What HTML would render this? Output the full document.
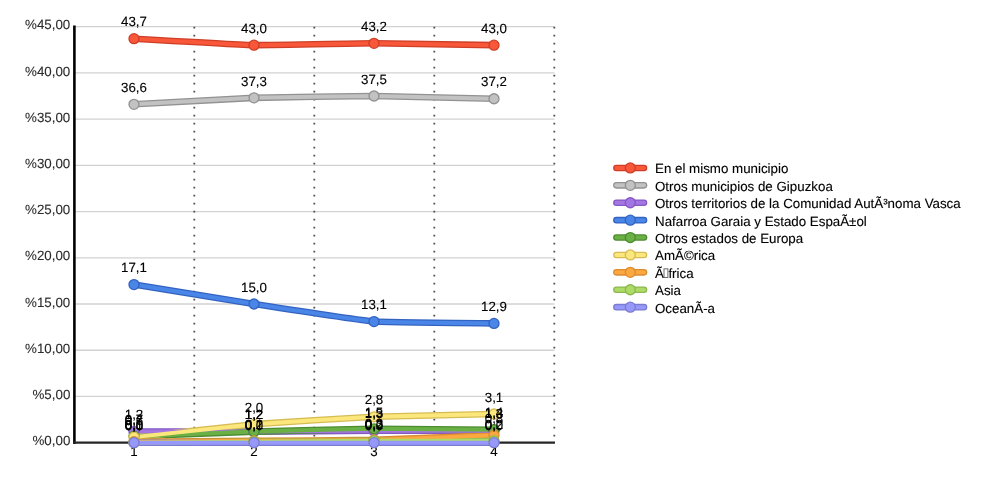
<!DOCTYPE html>
<html><head><meta charset="utf-8"><title>chart</title>
<style>
html,body{margin:0;padding:0;background:#fff;}
body{width:1000px;height:500px;overflow:hidden;}
svg{display:block;}
text{font-family:"Liberation Sans",sans-serif;text-rendering:geometricPrecision;}
.yl{font-size:13.333px;fill:#2c2c2c;text-anchor:end;stroke:#2c2c2c;stroke-width:0.1px;}
.xl{font-size:13.333px;fill:#000;text-anchor:middle;stroke:#000;stroke-width:0.1px;}
.dl{font-size:13.333px;fill:#000;text-anchor:middle;stroke:#000;stroke-width:0.12px;}
.lg{font-size:13.333px;fill:#000;text-anchor:start;stroke:#000;stroke-width:0.12px;}
.o{fill:none;stroke-width:6.6;stroke-linecap:round;stroke-linejoin:round;}
.f{fill:none;stroke-width:4.0;stroke-linecap:round;stroke-linejoin:round;}
.m{stroke-width:1.33;}
</style></head><body>
<svg width="1000" height="500" viewBox="0 0 1000 500">
<rect width="1000" height="500" fill="#fff"/>
<g stroke="#d2d2d2" stroke-width="1.3">
<line x1="74.4" y1="396.45" x2="554.5" y2="396.45"/>
<line x1="74.4" y1="350.23" x2="554.5" y2="350.23"/>
<line x1="74.4" y1="304.00" x2="554.5" y2="304.00"/>
<line x1="74.4" y1="257.78" x2="554.5" y2="257.78"/>
<line x1="74.4" y1="211.56" x2="554.5" y2="211.56"/>
<line x1="74.4" y1="165.34" x2="554.5" y2="165.34"/>
<line x1="74.4" y1="119.11" x2="554.5" y2="119.11"/>
<line x1="74.4" y1="72.89" x2="554.5" y2="72.89"/>
<line x1="74.4" y1="26.67" x2="554.5" y2="26.67"/>
</g>
<g stroke="#4c4c4c" stroke-width="1.8" stroke-dasharray="1.8 6.2">
<line x1="194.30" y1="26.8" x2="194.30" y2="442.67"/>
<line x1="314.30" y1="26.8" x2="314.30" y2="442.67"/>
<line x1="434.30" y1="26.8" x2="434.30" y2="442.67"/>
<line x1="554.30" y1="26.8" x2="554.30" y2="442.67"/>
</g>
<line x1="74.4" y1="25.4" x2="74.4" y2="443.97" stroke="#000" stroke-width="2.6"/>
<line x1="73.10" y1="442.67" x2="555.0" y2="442.67" stroke="#262626" stroke-width="2.1"/>
<text class="yl" x="70.3" y="445.32">%0,00</text>
<text class="yl" x="70.3" y="399.10">%5,00</text>
<text class="yl" x="70.3" y="352.88">%10,00</text>
<text class="yl" x="70.3" y="306.65">%15,00</text>
<text class="yl" x="70.3" y="260.43">%20,00</text>
<text class="yl" x="70.3" y="214.21">%25,00</text>
<text class="yl" x="70.3" y="167.99">%30,00</text>
<text class="yl" x="70.3" y="121.76">%35,00</text>
<text class="yl" x="70.3" y="75.54">%40,00</text>
<text class="yl" x="70.3" y="29.32">%45,00</text>
<text class="xl" x="134.00" y="455.9">1</text>
<text class="xl" x="254.00" y="455.9">2</text>
<text class="xl" x="374.00" y="455.9">3</text>
<text class="xl" x="494.00" y="455.9">4</text>
<g class="o">
<path d="M134.00,38.69 Q246.00,45.00 254.00,45.16 C266.00,45.39 362.00,43.31 374.00,43.31 Q382.00,43.31 494.00,45.16" stroke="#CE3F27"/>
<path d="M134.00,104.32 Q246.00,98.13 254.00,97.85 C266.00,97.44 362.00,95.96 374.00,96.00 Q382.00,96.03 494.00,98.78" stroke="#929292"/>
<path d="M134.00,431.58 Q246.00,431.61 254.00,431.58 C266.00,431.53 362.00,430.70 374.00,430.65 Q382.00,430.62 494.00,430.65" stroke="#8558C4"/>
<path d="M134.00,284.59 Q246.00,302.77 254.00,304.00 C266.00,305.85 362.00,320.60 374.00,321.57 Q382.00,322.21 494.00,323.42" stroke="#3363C0"/>
<path d="M134.00,436.20 Q246.00,431.82 254.00,431.58 C266.00,431.21 362.00,428.90 374.00,428.80 Q382.00,428.74 494.00,429.73" stroke="#4C8C30"/>
<path d="M134.00,437.12 Q246.00,424.86 254.00,424.18 C266.00,423.16 362.00,417.29 374.00,416.79 Q382.00,416.45 494.00,414.01" stroke="#D6BC55"/>
<path d="M134.00,441.75 Q246.00,440.88 254.00,440.82 C266.00,440.73 362.00,440.17 374.00,439.90 Q382.00,439.71 494.00,435.27" stroke="#DC8C30"/>
<path d="M134.00,442.67 Q246.00,441.81 254.00,441.75 C266.00,441.65 362.00,440.87 374.00,440.82 Q382.00,440.79 494.00,440.82" stroke="#8CB850"/>
<path d="M134.00,442.67 Q246.00,442.67 254.00,442.67 C266.00,442.67 362.00,442.67 374.00,442.67 Q382.00,442.67 494.00,442.67" stroke="#7A7CD0"/>
</g>
<g class="f">
<path d="M134.00,38.69 Q246.00,45.00 254.00,45.16 C266.00,45.39 362.00,43.31 374.00,43.31 Q382.00,43.31 494.00,45.16" stroke="#F9573A"/>
<path d="M134.00,104.32 Q246.00,98.13 254.00,97.85 C266.00,97.44 362.00,95.96 374.00,96.00 Q382.00,96.03 494.00,98.78" stroke="#C2C2C2"/>
<path d="M134.00,431.58 Q246.00,431.61 254.00,431.58 C266.00,431.53 362.00,430.70 374.00,430.65 Q382.00,430.62 494.00,430.65" stroke="#A476E3"/>
<path d="M134.00,284.59 Q246.00,302.77 254.00,304.00 C266.00,305.85 362.00,320.60 374.00,321.57 Q382.00,322.21 494.00,323.42" stroke="#4A86E8"/>
<path d="M134.00,436.20 Q246.00,431.82 254.00,431.58 C266.00,431.21 362.00,428.90 374.00,428.80 Q382.00,428.74 494.00,429.73" stroke="#6AB045"/>
<path d="M134.00,437.12 Q246.00,424.86 254.00,424.18 C266.00,423.16 362.00,417.29 374.00,416.79 Q382.00,416.45 494.00,414.01" stroke="#FBE77C"/>
<path d="M134.00,441.75 Q246.00,440.88 254.00,440.82 C266.00,440.73 362.00,440.17 374.00,439.90 Q382.00,439.71 494.00,435.27" stroke="#FBA840"/>
<path d="M134.00,442.67 Q246.00,441.81 254.00,441.75 C266.00,441.65 362.00,440.87 374.00,440.82 Q382.00,440.79 494.00,440.82" stroke="#AEDB68"/>
<path d="M134.00,442.67 Q246.00,442.67 254.00,442.67 C266.00,442.67 362.00,442.67 374.00,442.67 Q382.00,442.67 494.00,442.67" stroke="#9698FA"/>
</g>
<g class="m">
<circle cx="134.00" cy="38.69" r="5.0" fill="#F9573A" stroke="#CE3F27"/><circle cx="254.00" cy="45.16" r="5.0" fill="#F9573A" stroke="#CE3F27"/><circle cx="374.00" cy="43.31" r="5.0" fill="#F9573A" stroke="#CE3F27"/><circle cx="494.00" cy="45.16" r="5.0" fill="#F9573A" stroke="#CE3F27"/>
<circle cx="134.00" cy="104.32" r="5.0" fill="#C2C2C2" stroke="#929292"/><circle cx="254.00" cy="97.85" r="5.0" fill="#C2C2C2" stroke="#929292"/><circle cx="374.00" cy="96.00" r="5.0" fill="#C2C2C2" stroke="#929292"/><circle cx="494.00" cy="98.78" r="5.0" fill="#C2C2C2" stroke="#929292"/>
<circle cx="134.00" cy="431.58" r="5.0" fill="#A476E3" stroke="#8558C4"/><circle cx="254.00" cy="431.58" r="5.0" fill="#A476E3" stroke="#8558C4"/><circle cx="374.00" cy="430.65" r="5.0" fill="#A476E3" stroke="#8558C4"/><circle cx="494.00" cy="430.65" r="5.0" fill="#A476E3" stroke="#8558C4"/>
<circle cx="134.00" cy="284.59" r="5.0" fill="#4A86E8" stroke="#3363C0"/><circle cx="254.00" cy="304.00" r="5.0" fill="#4A86E8" stroke="#3363C0"/><circle cx="374.00" cy="321.57" r="5.0" fill="#4A86E8" stroke="#3363C0"/><circle cx="494.00" cy="323.42" r="5.0" fill="#4A86E8" stroke="#3363C0"/>
<circle cx="134.00" cy="436.20" r="5.0" fill="#6AB045" stroke="#4C8C30"/><circle cx="254.00" cy="431.58" r="5.0" fill="#6AB045" stroke="#4C8C30"/><circle cx="374.00" cy="428.80" r="5.0" fill="#6AB045" stroke="#4C8C30"/><circle cx="494.00" cy="429.73" r="5.0" fill="#6AB045" stroke="#4C8C30"/>
<circle cx="134.00" cy="437.12" r="5.0" fill="#FBE77C" stroke="#D6BC55"/><circle cx="254.00" cy="424.18" r="5.0" fill="#FBE77C" stroke="#D6BC55"/><circle cx="374.00" cy="416.79" r="5.0" fill="#FBE77C" stroke="#D6BC55"/><circle cx="494.00" cy="414.01" r="5.0" fill="#FBE77C" stroke="#D6BC55"/>
<circle cx="134.00" cy="441.75" r="5.0" fill="#FBA840" stroke="#DC8C30"/><circle cx="254.00" cy="440.82" r="5.0" fill="#FBA840" stroke="#DC8C30"/><circle cx="374.00" cy="439.90" r="5.0" fill="#FBA840" stroke="#DC8C30"/><circle cx="494.00" cy="435.27" r="5.0" fill="#FBA840" stroke="#DC8C30"/>
<circle cx="134.00" cy="442.67" r="5.0" fill="#AEDB68" stroke="#8CB850"/><circle cx="254.00" cy="441.75" r="5.0" fill="#AEDB68" stroke="#8CB850"/><circle cx="374.00" cy="440.82" r="5.0" fill="#AEDB68" stroke="#8CB850"/><circle cx="494.00" cy="440.82" r="5.0" fill="#AEDB68" stroke="#8CB850"/>
<circle cx="134.00" cy="442.67" r="5.0" fill="#9698FA" stroke="#7A7CD0"/><circle cx="254.00" cy="442.67" r="5.0" fill="#9698FA" stroke="#7A7CD0"/><circle cx="374.00" cy="442.67" r="5.0" fill="#9698FA" stroke="#7A7CD0"/><circle cx="494.00" cy="442.67" r="5.0" fill="#9698FA" stroke="#7A7CD0"/>
</g>
<text class="dl" x="134.00" y="26.39">43,7</text>
<text class="dl" x="254.00" y="32.86">43,0</text>
<text class="dl" x="374.00" y="31.01">43,2</text>
<text class="dl" x="494.00" y="32.86">43,0</text>
<text class="dl" x="134.00" y="92.02">36,6</text>
<text class="dl" x="254.00" y="85.55">37,3</text>
<text class="dl" x="374.00" y="83.70">37,5</text>
<text class="dl" x="494.00" y="86.48">37,2</text>
<text class="dl" x="134.00" y="419.28">1,2</text>
<text class="dl" x="254.00" y="419.28">1,2</text>
<text class="dl" x="374.00" y="418.35">1,3</text>
<text class="dl" x="494.00" y="418.35">1,3</text>
<text class="dl" x="134.00" y="272.29">17,1</text>
<text class="dl" x="254.00" y="291.70">15,0</text>
<text class="dl" x="374.00" y="309.27">13,1</text>
<text class="dl" x="494.00" y="311.12">12,9</text>
<text class="dl" x="134.00" y="423.90">0,7</text>
<text class="dl" x="254.00" y="419.28">1,2</text>
<text class="dl" x="374.00" y="416.50">1,5</text>
<text class="dl" x="494.00" y="417.43">1,4</text>
<text class="dl" x="134.00" y="424.82">0,6</text>
<text class="dl" x="254.00" y="411.88">2,0</text>
<text class="dl" x="374.00" y="404.49">2,8</text>
<text class="dl" x="494.00" y="401.71">3,1</text>
<text class="dl" x="134.00" y="429.45">0,1</text>
<text class="dl" x="254.00" y="428.52">0,2</text>
<text class="dl" x="374.00" y="427.60">0,3</text>
<text class="dl" x="494.00" y="422.97">0,8</text>
<text class="dl" x="134.00" y="430.37">0,0</text>
<text class="dl" x="254.00" y="429.45">0,1</text>
<text class="dl" x="374.00" y="428.52">0,2</text>
<text class="dl" x="494.00" y="428.52">0,2</text>
<text class="dl" x="134.00" y="430.37">0,0</text>
<text class="dl" x="254.00" y="430.37">0,0</text>
<text class="dl" x="374.00" y="430.37">0,0</text>
<text class="dl" x="494.00" y="430.37">0,0</text>
<g><line class="o" x1="616.4" y1="167.95" x2="644.0" y2="167.95" stroke="#CE3F27"/><line class="f" x1="616.4" y1="167.95" x2="644.0" y2="167.95" stroke="#F9573A"/><circle class="m" cx="630.3" cy="167.95" r="5.0" fill="#F9573A" stroke="#CE3F27"/><text class="lg" x="655.0" y="173.35">En el mismo municipio</text></g>
<g><line class="o" x1="616.4" y1="185.35" x2="644.0" y2="185.35" stroke="#929292"/><line class="f" x1="616.4" y1="185.35" x2="644.0" y2="185.35" stroke="#C2C2C2"/><circle class="m" cx="630.3" cy="185.35" r="5.0" fill="#C2C2C2" stroke="#929292"/><text class="lg" x="655.0" y="190.75">Otros municipios de Gipuzkoa</text></g>
<g><line class="o" x1="616.4" y1="202.75" x2="644.0" y2="202.75" stroke="#8558C4"/><line class="f" x1="616.4" y1="202.75" x2="644.0" y2="202.75" stroke="#A476E3"/><circle class="m" cx="630.3" cy="202.75" r="5.0" fill="#A476E3" stroke="#8558C4"/><text class="lg" x="655.0" y="208.15">Otros territorios de la Comunidad AutÃ³noma Vasca</text></g>
<g><line class="o" x1="616.4" y1="220.15" x2="644.0" y2="220.15" stroke="#3363C0"/><line class="f" x1="616.4" y1="220.15" x2="644.0" y2="220.15" stroke="#4A86E8"/><circle class="m" cx="630.3" cy="220.15" r="5.0" fill="#4A86E8" stroke="#3363C0"/><text class="lg" x="655.0" y="225.55">Nafarroa Garaia y Estado EspaÃ±ol</text></g>
<g><line class="o" x1="616.4" y1="237.55" x2="644.0" y2="237.55" stroke="#4C8C30"/><line class="f" x1="616.4" y1="237.55" x2="644.0" y2="237.55" stroke="#6AB045"/><circle class="m" cx="630.3" cy="237.55" r="5.0" fill="#6AB045" stroke="#4C8C30"/><text class="lg" x="655.0" y="242.95">Otros estados de Europa</text></g>
<g><line class="o" x1="616.4" y1="254.95" x2="644.0" y2="254.95" stroke="#D6BC55"/><line class="f" x1="616.4" y1="254.95" x2="644.0" y2="254.95" stroke="#FBE77C"/><circle class="m" cx="630.3" cy="254.95" r="5.0" fill="#FBE77C" stroke="#D6BC55"/><text class="lg" x="655.0" y="260.35">AmÃ©rica</text></g>
<g><line class="o" x1="616.4" y1="272.35" x2="644.0" y2="272.35" stroke="#DC8C30"/><line class="f" x1="616.4" y1="272.35" x2="644.0" y2="272.35" stroke="#FBA840"/><circle class="m" cx="630.3" cy="272.35" r="5.0" fill="#FBA840" stroke="#DC8C30"/><text class="lg" x="655.0" y="277.75">Ã<tspan dx="4.5">frica</tspan></text><rect x="664.0" y="268.85" width="3.9" height="8.6" fill="none" stroke="#5a5a5a" stroke-width="0.9"/></g>
<g><line class="o" x1="616.4" y1="289.75" x2="644.0" y2="289.75" stroke="#8CB850"/><line class="f" x1="616.4" y1="289.75" x2="644.0" y2="289.75" stroke="#AEDB68"/><circle class="m" cx="630.3" cy="289.75" r="5.0" fill="#AEDB68" stroke="#8CB850"/><text class="lg" x="655.0" y="295.15">Asia</text></g>
<g><line class="o" x1="616.4" y1="307.15" x2="644.0" y2="307.15" stroke="#7A7CD0"/><line class="f" x1="616.4" y1="307.15" x2="644.0" y2="307.15" stroke="#9698FA"/><circle class="m" cx="630.3" cy="307.15" r="5.0" fill="#9698FA" stroke="#7A7CD0"/><text class="lg" x="655.0" y="312.55">OceanÃ-a</text></g>
</svg>
</body></html>
